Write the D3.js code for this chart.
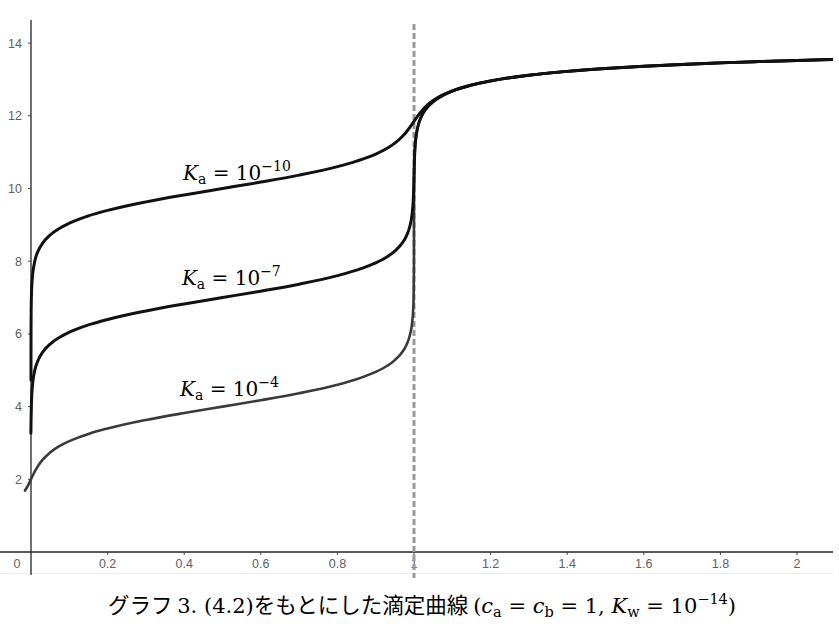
<!DOCTYPE html>
<html>
<head>
<meta charset="utf-8">
<script src="https://cdn.jsdelivr.net/npm/d3@7"></script>
<style>
  html, body { margin: 0; padding: 0; background: #fff; }
  svg { display: block; }
  .tick-label { font-family: "Liberation Sans", Arial, sans-serif; font-size: 12.5px; fill: #606060; }
  .math { font-family: "DejaVu Serif", "Liberation Serif", serif; }
</style>
</head>
<body>
<svg id="chart" width="839" height="629"></svg>
<script>
// ---- data ----
const xTicks = [0.2, 0.4, 0.6, 0.8, 1, 1.2, 1.4, 1.6, 1.8, 2];
const xTickLabels = ["0.2", "0.4", "0.6", "0.8", "1", "1.2", "1.4", "1.6", "1.8", "2"];
const yTicks = [2, 4, 6, 8, 10, 12, 14];
const yTickLabels = ["2", "4", "6", "8", "10", "12", "14"];
const equivalenceX = 1;

// Ka = 1e-10
const ka10X  = [-0.000013, 0, 0.00001, 0.00003, 0.0001, 0.0003, 0.001, 0.003, 0.01, 0.02, 0.03, 0.05, 0.075, 0.1, 0.15, 0.2, 0.3, 0.4, 0.5, 0.6, 0.7, 0.8, 0.85, 0.9, 0.93, 0.95, 0.97, 0.98, 0.99, 1.0, 1.01, 1.02, 1.03, 1.05, 1.075, 1.1, 1.15, 1.2, 1.3, 1.4, 1.5, 1.6, 1.7, 1.8, 1.9, 2.0, 2.1];
const ka10PH = [4.73, 5.0, 5.209, 5.519, 6.004, 6.477, 7.0, 7.478, 8.004, 8.31, 8.49, 8.721, 8.909, 9.046, 9.247, 9.398, 9.632, 9.824, 10.0, 10.176, 10.368, 10.602, 10.753, 10.946, 11.107, 11.248, 11.436, 11.555, 11.694, 11.846, 11.999, 12.133, 12.246, 12.42, 12.574, 12.687, 12.848, 12.961, 13.115, 13.222, 13.301, 13.363, 13.414, 13.456, 13.492, 13.523, 13.55];

// Ka = 1e-7
const ka7X  = [-0.00035, 0, 0.0001, 0.0003, 0.001, 0.002, 0.005, 0.01, 0.02, 0.03, 0.05, 0.075, 0.1, 0.15, 0.2, 0.3, 0.4, 0.5, 0.6, 0.7, 0.8, 0.85, 0.9, 0.93, 0.95, 0.97, 0.98, 0.99, 0.995, 0.998, 0.999, 1.0, 1.001, 1.002, 1.005, 1.01, 1.02, 1.03, 1.05, 1.075, 1.1, 1.15, 1.2, 1.3, 1.4, 1.5, 1.6, 1.7, 1.8, 1.9, 2.0, 2.1];
const ka7PH = [3.27, 3.5, 3.569, 3.70, 4.039, 4.313, 4.701, 5.004, 5.31, 5.49, 5.721, 5.909, 6.046, 6.247, 6.398, 6.632, 6.824, 7.0, 7.176, 7.368, 7.602, 7.753, 7.954, 8.123, 8.279, 8.51, 8.69, 8.996, 9.297, 9.678, 9.93, 10.35, 10.767, 11.02, 11.4, 11.698, 11.996, 12.17, 12.387, 12.558, 12.678, 12.844, 12.959, 13.115, 13.222, 13.301, 13.363, 13.414, 13.456, 13.492, 13.523, 13.55];

// Ka = 1e-4
const ka4X  = [-0.0157, -0.008, 0, 0.005, 0.01, 0.02, 0.03, 0.05, 0.075, 0.1, 0.15, 0.2, 0.3, 0.4, 0.5, 0.6, 0.7, 0.8, 0.85, 0.9, 0.93, 0.95, 0.97, 0.98, 0.99, 0.995, 0.998, 0.999, 0.9999, 1.0, 1.0001, 1.001, 1.005, 1.01, 1.02, 1.03, 1.05, 1.075, 1.1, 1.15, 1.2, 1.3, 1.4, 1.5, 1.6, 1.7, 1.8, 1.9, 2.0, 2.1];
const ka4PH = [1.69, 1.829, 2.0, 2.112, 2.215, 2.393, 2.533, 2.739, 2.917, 3.051, 3.249, 3.398, 3.632, 3.824, 4.0, 4.176, 4.368, 4.602, 4.753, 4.954, 5.123, 5.279, 5.51, 5.69, 5.996, 6.299, 6.698, 7.0, 7.99, 8.85, 9.707, 10.70, 11.397, 11.697, 11.996, 12.17, 12.387, 12.558, 12.678, 12.844, 12.959, 13.115, 13.222, 13.301, 13.363, 13.414, 13.456, 13.492, 13.523, 13.55];

const labelExponents = ["−10", "−7", "−4"];

// ---- drawing ----
const W = 839, H = 629;
const svg = d3.select("#chart");
svg.append("rect").attr("width", W).attr("height", H).attr("fill", "#fff");

const x = d3.scaleLinear().domain([0, 2]).range([31, 797]);
const y = d3.scaleLinear().domain([0, 14]).range([552, 43.1]);

svg.append("defs").append("clipPath").attr("id", "plotclip")
  .append("rect").attr("x", 0).attr("y", 15).attr("width", 833).attr("height", 540);

// faint bottom border line
svg.append("line").attr("x1", 0).attr("x2", 833).attr("y1", 573.5).attr("y2", 573.5)
  .attr("stroke", "#eeeeee").attr("stroke-width", 1);

// axes lines
svg.append("line").attr("x1", 0).attr("x2", 833).attr("y1", y(0)).attr("y2", y(0))
  .attr("stroke", "#222").attr("stroke-width", 1.3);
svg.append("line").attr("x1", x(0)).attr("x2", x(0)).attr("y1", 20).attr("y2", 575)
  .attr("stroke", "#222").attr("stroke-width", 1.3);

// x ticks
const xt = svg.append("g");
xTicks.forEach((t, i) => {
  xt.append("line").attr("x1", x(t)).attr("x2", x(t)).attr("y1", y(0)).attr("y2", y(0) + 3)
    .attr("stroke", "#444").attr("stroke-width", 1);
  xt.append("text").attr("class", "tick-label").attr("x", x(t)).attr("y", 568)
    .attr("text-anchor", "middle").text(xTickLabels[i]);
});
svg.append("text").attr("class", "tick-label").attr("x", 17).attr("y", 568)
  .attr("text-anchor", "middle").text("0");

// y ticks
const yt = svg.append("g");
yTicks.forEach((t, i) => {
  yt.append("line").attr("x1", x(0) - 3).attr("x2", x(0)).attr("y1", y(t)).attr("y2", y(t))
    .attr("stroke", "#444").attr("stroke-width", 1);
  yt.append("text").attr("class", "tick-label").attr("x", 22).attr("y", y(t) + 4.5)
    .attr("text-anchor", "end").text(yTickLabels[i]);
});

// dashed equivalence line
svg.append("line").attr("x1", x(equivalenceX)).attr("x2", x(equivalenceX))
  .attr("y1", 24).attr("y2", 578)
  .attr("stroke", "#999").attr("stroke-width", 3).attr("stroke-dasharray", "6,3");

// curves
const line = d3.line().x(d => x(d[0])).y(d => y(d[1])).curve(d3.curveMonotoneX);
const plot = svg.append("g").attr("clip-path", "url(#plotclip)");
const series = [
  { xs: ka4X, ys: ka4PH, color: "#3a3a3a", w: 2.6 },
  { xs: ka7X, ys: ka7PH, color: "#111", w: 3 },
  { xs: ka10X, ys: ka10PH, color: "#111", w: 3 }
];
series.forEach(s => {
  plot.append("path").datum(s.xs.map((v, i) => [v, s.ys[i]]))
    .attr("d", line).attr("fill", "none")
    .attr("stroke", s.color).attr("stroke-width", s.w)
    .attr("stroke-linejoin", "round").attr("stroke-linecap", "round");
});

// curve labels: K_a = 10^exp  (anchor in data units)
const labelAnchors = [[0.397, 10.23], [0.394, 7.35], [0.389, 4.29]];
labelExponents.forEach((e, i) => {
  const t = svg.append("text").attr("class", "math")
    .attr("x", x(labelAnchors[i][0])).attr("y", y(labelAnchors[i][1]))
    .attr("font-size", 20).attr("fill", "#000");
  t.append("tspan").attr("font-style", "italic").text("K");
  t.append("tspan").attr("font-size", 14).attr("dy", 4).text("a");
  t.append("tspan").attr("dy", -4).text(" = 10");
  t.append("tspan").attr("font-size", 14).attr("dy", -9).text(e);
});

// caption
const cap = svg.append("text").attr("x", 422).attr("y", 613).attr("text-anchor", "middle")
  .attr("font-family", "'DejaVu Serif', 'Noto Sans CJK JP', serif").attr("font-size", 21).attr("fill", "#000");
const jp = "'Noto Sans CJK JP', sans-serif";
cap.append("tspan").attr("font-family", jp).attr("font-size", 21.5).text("グラフ ");
cap.append("tspan").text("3. (4.2)");
cap.append("tspan").attr("font-family", jp).attr("font-size", 21.5).text("をもとにした滴定曲線 ");
cap.append("tspan").text(" (");
cap.append("tspan").attr("font-style", "italic").text("c");
cap.append("tspan").attr("font-size", 14.5).attr("dy", 4).text("a");
cap.append("tspan").attr("dy", -4).text(" = ");
cap.append("tspan").attr("font-style", "italic").text("c");
cap.append("tspan").attr("font-size", 14.5).attr("dy", 4).text("b");
cap.append("tspan").attr("dy", -4).text(" = 1, ");
cap.append("tspan").attr("font-style", "italic").text("K");
cap.append("tspan").attr("font-size", 14.5).attr("dy", 4).text("w");
cap.append("tspan").attr("dy", -4).text(" = 10");
cap.append("tspan").attr("font-size", 14.5).attr("dy", -9).text("−14");
cap.append("tspan").attr("dy", 9).text(")");
</script>
</body>
</html>
